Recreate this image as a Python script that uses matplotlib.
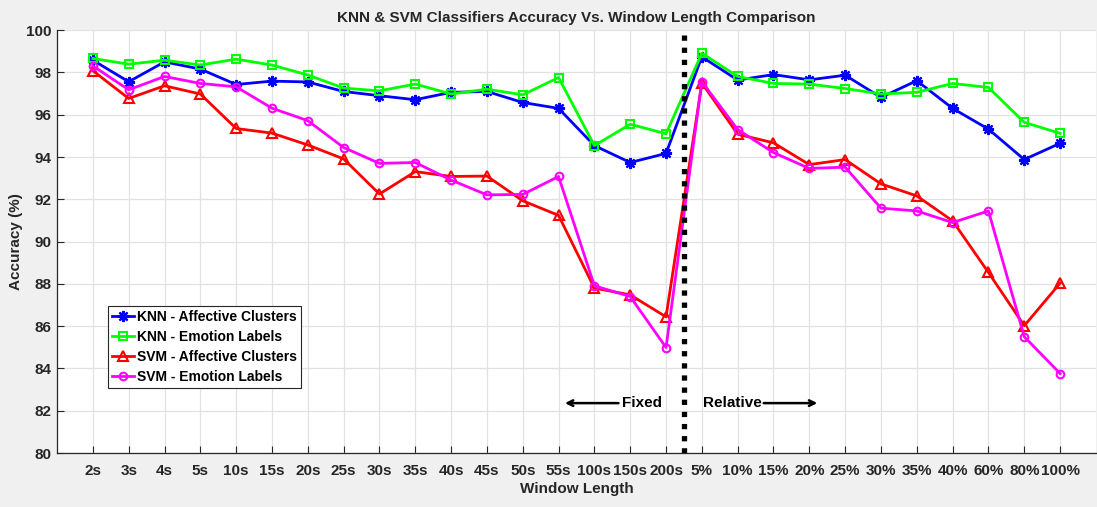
import matplotlib
matplotlib.use("Agg")
import matplotlib.pyplot as plt
import numpy as np

# window lengths: fixed (seconds) then relative (percent)
windows = ["2s", "3s", "4s", "5s", "10s", "15s", "20s", "25s", "30s", "35s",
           "40s", "45s", "50s", "55s", "100s", "150s", "200s",
           "5%", "10%", "15%", "20%", "25%", "30%", "35%", "40%", "60%", "80%", "100%"]

knn_affective = [98.58, 97.56, 98.50, 98.16, 97.43, 97.59, 97.55, 97.10, 96.90, 96.71,
                 97.06, 97.10, 96.58, 96.30, 94.54, 93.74, 94.17,
                 98.74, 97.64, 97.90, 97.65, 97.87, 96.82, 97.61, 96.30, 95.32, 93.88, 94.65]
knn_emotion = [98.66, 98.39, 98.58, 98.35, 98.63, 98.35, 97.88, 97.26, 97.13, 97.45,
               96.98, 97.21, 96.94, 97.76, 94.54, 95.55, 95.10,
               98.91, 97.81, 97.48, 97.45, 97.24, 96.98, 97.06, 97.48, 97.29, 95.64, 95.12]
svm_affective = [98.08, 96.77, 97.37, 96.98, 95.35, 95.13, 94.57, 93.91, 92.25, 93.31,
                 93.08, 93.10, 91.93, 91.24, 87.80, 87.48, 86.44,
                 97.50, 95.08, 94.67, 93.64, 93.88, 92.73, 92.16, 90.98, 88.54, 86.02, 88.03]
svm_emotion = [98.31, 97.18, 97.81, 97.48, 97.32, 96.31, 95.72, 94.45, 93.70, 93.74,
               92.91, 92.21, 92.23, 93.08, 87.91, 87.40, 84.99,
               97.56, 95.30, 94.21, 93.46, 93.52, 91.58, 91.45, 90.90, 91.45, 85.50, 83.76]

plt.rcParams["font.family"] = ["Liberation Sans", "DejaVu Sans"]
plt.rcParams["font.weight"] = "bold"

dark = "#262626"
fig = plt.figure(figsize=(10.97, 5.07), dpi=100, facecolor="#f0f0f0")
ax = fig.add_axes([0.052, 0.1065, 0.947, 0.834])

x = np.arange(1, len(windows) + 1)
ax.plot(x, knn_affective, color="blue", lw=2, marker=(8, 2, 0), ms=8, mew=1.6,
        label="KNN - Affective Clusters")
ax.plot(x, knn_emotion, color="#00ff00", lw=2, marker="s", ms=6, mew=1.5,
        mfc="none", label="KNN - Emotion Labels")
ax.plot(x, svm_affective, color="red", lw=2, marker="^", ms=7, mew=1.5,
        mfc="none", label="SVM - Affective Clusters")
ax.plot(x, svm_emotion, color="magenta", lw=2, marker="o", ms=5.5, mew=1.5,
        mfc="none", label="SVM - Emotion Labels")

# split between fixed and relative windows
split = 17.5
ax.plot([split, split], [80, 100], color="black", lw=3.8, dashes=(1, 1.3),
        dash_capstyle="butt", zorder=5)

ax.annotate("", xy=(14.1, 82.36), xytext=(15.75, 82.36),
            arrowprops=dict(arrowstyle="->", color="black", lw=1.8))
ax.text(15.78, 82.36, "Fixed", ha="left", va="center", fontsize=11, fontweight="bold")
ax.text(18.03, 82.36, "Relative", ha="left", va="center", fontsize=11, fontweight="bold")
ax.annotate("", xy=(21.3, 82.36), xytext=(19.65, 82.36),
            arrowprops=dict(arrowstyle="->", color="black", lw=1.8))

ax.set_xlim(0, len(windows) + 1)
ax.set_ylim(80, 100)
ax.set_xticks(x)
ax.set_xticklabels(windows)
ax.set_yticks(np.arange(80, 101, 2))
ax.tick_params(direction="in", length=5, colors=dark, labelsize=11)
ax.tick_params(axis="x", pad=8)
ax.tick_params(axis="y", pad=4)
for lab in ax.get_xticklabels() + ax.get_yticklabels():
    lab.set_fontweight("bold")
ax.grid(True, color="#e2e2e2", lw=0.9)
ax.set_axisbelow(True)
for side in ["top", "right"]:
    ax.spines[side].set_visible(False)
for side in ["left", "bottom"]:
    ax.spines[side].set_color(dark)
    ax.spines[side].set_linewidth(0.9)

ax.set_xlabel("Window Length", fontsize=11, fontweight="bold", color=dark, labelpad=3)
ax.set_ylabel("Accuracy (%)", fontsize=11, fontweight="bold", color=dark, labelpad=2)
ax.set_title("KNN & SVM Classifiers Accuracy Vs. Window Length Comparison",
             fontsize=11, fontweight="bold", color=dark, pad=6)

leg = ax.legend(loc="upper left", bbox_to_anchor=(0.049, 0.3475), borderaxespad=0,
                fancybox=False, edgecolor=dark, framealpha=1, handlelength=1.6,
                handletextpad=0.2, labelspacing=0.42, borderpad=0.3,
                prop={"weight": "bold", "size": 10})
leg.get_frame().set_linewidth(0.8)

fig.savefig("out.png", dpi=100, facecolor=fig.get_facecolor())
